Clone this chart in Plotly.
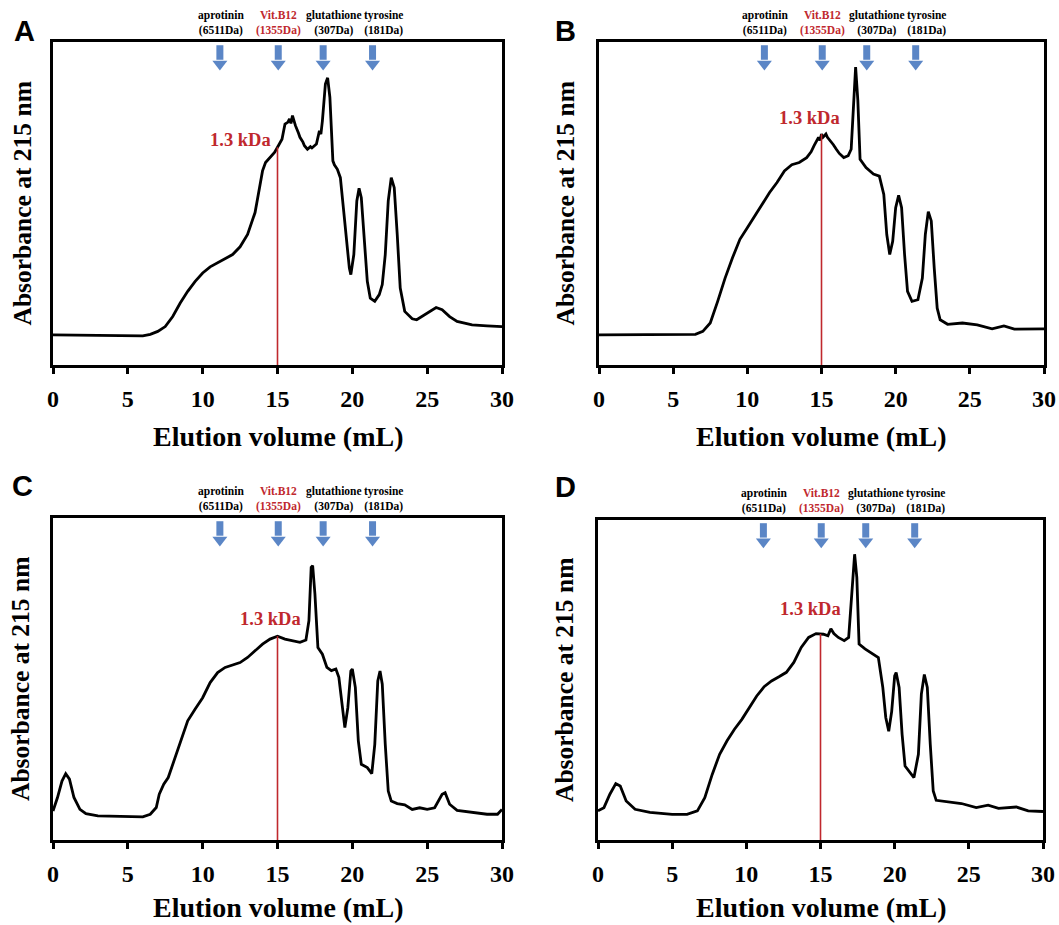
import numpy as np
import plotly.graph_objects as go

# ---------------- data ----------------
xA = [0, 5, 6, 6.5, 7, 7.5, 8, 8.5, 9, 9.5, 10, 10.5, 11, 11.5, 12, 12.5, 13, 13.5, 13.8, 14, 14.2, 14.5,
      14.8, 15, 15.3, 15.5, 15.7, 15.8, 15.9, 16, 16.1, 16.2, 16.4, 16.5, 16.7, 16.8, 17, 17.2, 17.3, 17.5,
      17.6, 17.8, 17.9, 18, 18.2, 18.35, 18.5, 18.7, 18.8, 19, 19.2, 19.4, 19.6, 19.8, 19.9, 20.1, 20.3,
      20.45, 20.6, 20.8, 21, 21.2, 21.5, 21.8, 22, 22.2, 22.4, 22.6, 22.8, 23, 23.2, 23.5, 24, 24.3, 25,
      25.6, 26, 26.5, 27, 28, 29, 30]
yA = [0.093, 0.090, 0.090, 0.095, 0.104, 0.119, 0.150, 0.192, 0.228, 0.259, 0.285, 0.304, 0.316, 0.328,
      0.342, 0.366, 0.404, 0.472, 0.549, 0.601, 0.627, 0.642, 0.658, 0.674, 0.699, 0.746, 0.752, 0.762,
      0.748, 0.772, 0.755, 0.741, 0.718, 0.705, 0.690, 0.679, 0.668, 0.676, 0.672, 0.680, 0.684, 0.725,
      0.715, 0.756, 0.870, 0.889, 0.829, 0.632, 0.620, 0.606, 0.580, 0.487, 0.383, 0.300, 0.280, 0.342,
      0.508, 0.547, 0.518, 0.383, 0.259, 0.207, 0.197, 0.218, 0.249, 0.342, 0.508, 0.580, 0.549, 0.404,
      0.238, 0.166, 0.143, 0.140, 0.161, 0.178, 0.171, 0.150, 0.135, 0.124, 0.121, 0.119]

xB = [0, 5, 6.5, 7, 7.5, 8, 8.5, 9, 9.5, 10, 10.5, 11, 11.5, 12, 12.5, 13, 13.5, 14, 14.3, 14.5, 14.8,
      14.9, 15, 15.1, 15.3, 15.4, 15.6, 15.8, 16, 16.2, 16.5, 16.8, 17, 17.2, 17.3, 17.45, 17.6, 18, 18.3,
      18.5, 18.9, 19.2, 19.4, 19.6, 19.8, 20, 20.2, 20.4, 20.6, 20.8, 21.1, 21.5, 21.8, 22, 22.2, 22.4,
      22.6, 22.8, 23, 23.5, 24.5, 25.5, 26.5, 27.3, 28, 29, 30]
yB = [0.093, 0.093, 0.095, 0.104, 0.130, 0.197, 0.269, 0.332, 0.389, 0.425, 0.461, 0.497, 0.534, 0.565,
      0.601, 0.620, 0.627, 0.642, 0.660, 0.679, 0.705, 0.695, 0.715, 0.705, 0.715, 0.705, 0.694, 0.682,
      0.668, 0.655, 0.642, 0.648, 0.668, 0.839, 0.922, 0.819, 0.637, 0.611, 0.600, 0.591, 0.585, 0.528,
      0.404, 0.342, 0.383, 0.487, 0.525, 0.487, 0.342, 0.228, 0.197, 0.202, 0.269, 0.404, 0.475, 0.446,
      0.300, 0.176, 0.140, 0.126, 0.130, 0.124, 0.112, 0.121, 0.111, 0.111, 0.112]

xC = [0, 0.3, 0.6, 0.85, 1.1, 1.4, 1.8, 2.2, 3, 5, 6, 6.5, 6.9, 7.1, 7.4, 7.7, 8, 8.5, 9, 9.5, 10, 10.5,
      11, 11.5, 12, 12.5, 13, 13.5, 14, 14.5, 15, 15.5, 16, 16.5, 16.9, 17.1, 17.25, 17.35, 17.5, 17.7, 18,
      18.3, 18.6, 18.9, 19.1, 19.3, 19.5, 19.7, 19.9, 20.0, 20.2, 20.4, 20.6, 21, 21.3, 21.5, 21.7, 21.85,
      22, 22.2, 22.4, 22.6, 23, 23.5, 24, 24.5, 25, 25.5, 26.0, 26.2, 26.5, 27, 28, 29, 29.7, 30]
yC = [0.090, 0.132, 0.183, 0.206, 0.189, 0.132, 0.095, 0.082, 0.075, 0.072, 0.072, 0.080, 0.101, 0.142,
      0.173, 0.194, 0.235, 0.308, 0.370, 0.407, 0.442, 0.489, 0.520, 0.536, 0.544, 0.551, 0.567, 0.588,
      0.608, 0.624, 0.633, 0.624, 0.619, 0.614, 0.621, 0.681, 0.847, 0.852, 0.764, 0.598, 0.577, 0.536,
      0.526, 0.531, 0.505, 0.422, 0.349, 0.411, 0.525, 0.531, 0.474, 0.308, 0.235, 0.225, 0.206, 0.297,
      0.494, 0.525, 0.484, 0.297, 0.152, 0.121, 0.113, 0.109, 0.095, 0.100, 0.095, 0.100, 0.142, 0.147,
      0.111, 0.092, 0.085, 0.080, 0.080, 0.095]

xD = [0, 0.4, 0.8, 1.2, 1.5, 1.9, 2.5, 3.5, 5, 6, 6.7, 7.2, 7.7, 8.2, 8.7, 9.2, 9.7, 10.2, 10.7, 11.2,
      11.7, 12.2, 12.7, 13.2, 13.7, 14.2, 14.7, 15.2, 15.5, 15.7, 15.9, 16.2, 16.6, 16.9, 17.1, 17.3, 17.45,
      17.6, 18, 18.5, 18.9, 19.2, 19.4, 19.6, 19.8, 20, 20.1, 20.3, 20.5, 20.7, 21, 21.3, 21.6, 21.8, 22,
      22.2, 22.4, 22.6, 22.8, 23.5, 24.5, 25.5, 26.3, 27, 28.2, 29, 30]
yD = [0.091, 0.101, 0.143, 0.176, 0.169, 0.122, 0.096, 0.086, 0.080, 0.080, 0.091, 0.132, 0.205, 0.268,
      0.310, 0.346, 0.377, 0.414, 0.450, 0.479, 0.497, 0.510, 0.524, 0.555, 0.602, 0.633, 0.645, 0.643,
      0.638, 0.660, 0.645, 0.633, 0.623, 0.633, 0.768, 0.893, 0.820, 0.612, 0.597, 0.581, 0.570, 0.477,
      0.383, 0.340, 0.402, 0.513, 0.523, 0.477, 0.331, 0.231, 0.211, 0.195, 0.268, 0.456, 0.517, 0.477,
      0.299, 0.153, 0.124, 0.120, 0.114, 0.101, 0.109, 0.099, 0.103, 0.091, 0.089]

panel_letters = ["A", "B", "C", "D"]
curves_x = [xA, xB, xC, xD]
curves_y = [yA, yB, yC, yD]

std_names = ["aprotinin", "Vit.B12", "glutathione", "tyrosine"]
std_mass = ["(6511Da)", "(1355Da)", "(307Da)", "(181Da)"]
std_elution = [11.15, 15.05, 18.05, 21.35]
std_label_x = [11.2, 15.05, 18.75, 22.06]
std_colors = ["black", "#C0282D", "black", "black"]

cut_volume = 15.0
cut_label = "1.3 kDa"
cut_label_pos = [(12.5, 0.696), (14.2, 0.765), (14.5, 0.686), (14.3, 0.722)]

x_ticks = [0, 5, 10, 15, 20, 25, 30]
x_ticktext = [str(v) for v in x_ticks]

# ---------------- layout geometry ----------------
W, H = 1059, 925
boxes = [  # left, right, top, bottom in px
    (53, 502, 42, 365),
    (599, 1044, 42, 365),
    (53, 502, 518, 840),
    (598, 1043, 520, 840),
]
letter_pos = [(24, 31), (565, 31), (22, 486), (565, 487)]
ytitle_x = [22, 565, 20, 564]
xtitle_gap = [71, 71, 67, 67]

SERIF = "Liberation Serif"
RED = "#C0282D"
BLUE = "#5B86C6"

fig = go.Figure()
annotations = []

for i in range(4):
    l, r, t, b = boxes[i]
    sfx = "" if i == 0 else str(i + 1)
    xa, ya = "x" + sfx, "y" + sfx
    xdom = [l / W, r / W]
    ydom = [1 - b / H, 1 - t / H]

    fig.update_layout(**{
        "xaxis" + sfx: dict(domain=xdom, range=[0, 30], anchor=ya, tickvals=x_ticks,
                            ticktext=["<b>" + s + "</b>" for s in x_ticktext],
                            ticks="outside", ticklen=6, tickwidth=2.5, tickcolor="black",
                            showline=True, linewidth=3, linecolor="black", mirror=True,
                            showgrid=False, zeroline=False, ticklabelstandoff=4, automargin=False,
                            tickfont=dict(family=SERIF, size=24, color="black")),
        "yaxis" + sfx: dict(domain=ydom, range=[0, 1], anchor=xa, showticklabels=False,
                            ticks="", showline=True, linewidth=3, linecolor="black", mirror=True,
                            showgrid=False, zeroline=False, automargin=False),
    })

    # chromatogram
    fig.add_trace(go.Scatter(x=curves_x[i], y=curves_y[i], mode="lines", xaxis=xa, yaxis=ya,
                             line=dict(color="black", width=2.8), showlegend=False, hoverinfo="skip"))

    # red cut-off line at 15 mL up to the curve
    ytop = float(np.interp(cut_volume, curves_x[i], curves_y[i]))
    fig.add_trace(go.Scatter(x=[cut_volume, cut_volume], y=[0, ytop], mode="lines", xaxis=xa, yaxis=ya,
                             line=dict(color=RED, width=1.6), showlegend=False, hoverinfo="skip"))

    # standard arrows: shafts + heads
    sx, sy = [], []
    for v in std_elution:
        sx += [v, v, None]
        sy += [0.99, 0.945, None]
    fig.add_trace(go.Scatter(x=sx, y=sy, mode="lines", xaxis=xa, yaxis=ya,
                             line=dict(color=BLUE, width=7), showlegend=False, hoverinfo="skip"))
    fig.add_trace(go.Scatter(x=std_elution, y=[0.932] * len(std_elution), mode="markers",
                             xaxis=xa, yaxis=ya,
                             marker=dict(symbol="triangle-down", size=13, color=BLUE, line=dict(width=0)),
                             showlegend=False, hoverinfo="skip"))

    # standard labels above box
    for name, mass, lx, c in zip(std_names, std_mass, std_label_x, std_colors):
        annotations.append(dict(x=lx, y=1.0, xref=xa, yref=ya + " domain", xanchor="center",
                                yanchor="bottom", yshift=3, showarrow=False, align="center",
                                text=f"<b>{name}<br>{mass}</b>",
                                font=dict(family=SERIF, size=11.5, color=c)))

    # 1.3 kDa label
    cx, cy = cut_label_pos[i]
    annotations.append(dict(x=cx, y=cy, xref=xa, yref=ya, xanchor="center", yanchor="middle",
                            showarrow=False, text=f"<b>{cut_label}</b>",
                            font=dict(family=SERIF, size=18.5, color=RED)))

    # panel letter
    px, py = letter_pos[i]
    annotations.append(dict(x=px / W, y=1 - py / H, xref="paper", yref="paper", showarrow=False,
                            xanchor="center", yanchor="middle",
                            text=f"<b>{panel_letters[i]}</b>",
                            font=dict(family="Liberation Sans", size=29, color="black")))

    # axis titles
    annotations.append(dict(x=(l + r) / 2 / W, y=1 - (b + xtitle_gap[i]) / H, xref="paper",
                            yref="paper", xanchor="center", yanchor="middle",
                            showarrow=False, text="<b>Elution volume (mL)</b>",
                            font=dict(family=SERIF, size=28, color="black")))
    annotations.append(dict(x=ytitle_x[i] / W, y=1 - (t + b) / 2 / H, xref="paper", yref="paper",
                            xanchor="center", yanchor="middle",
                            showarrow=False, text="<b>Absorbance at 215 nm</b>", textangle=-90,
                            font=dict(family=SERIF, size=25.5, color="black")))

fig.update_layout(width=W, height=H, margin=dict(l=0, r=0, t=0, b=0, autoexpand=False),
                  paper_bgcolor="white", plot_bgcolor="white", annotations=annotations)

fig.write_html("out.html", config={"displayModeBar": False},
               post_script="document.body.style.margin='0';document.body.style.padding='0';")
